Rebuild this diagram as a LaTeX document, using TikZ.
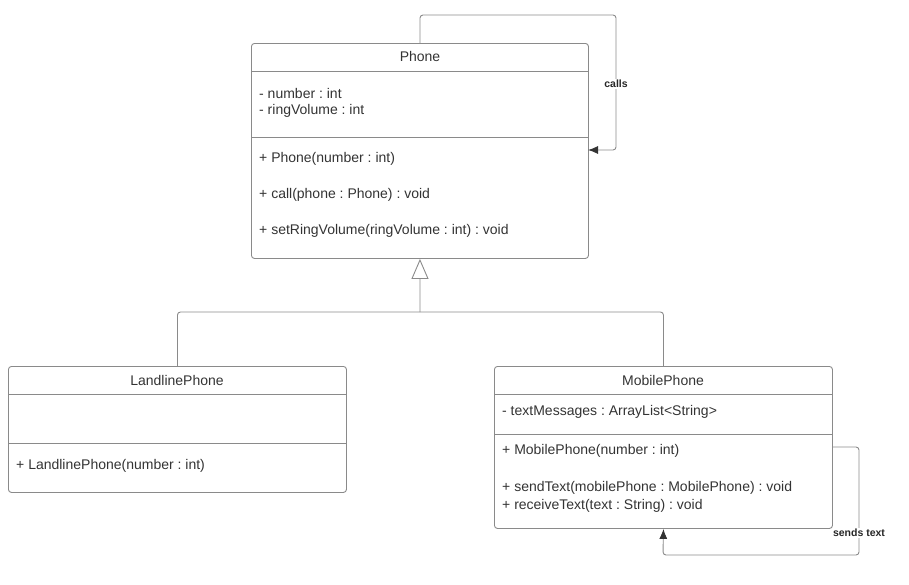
\documentclass[tikz,border=0pt]{standalone}
\usepackage{fontspec}
\setmainfont{Liberation Sans}
\frenchspacing
\usetikzlibrary{arrows.meta}
\definecolor{umlline}{HTML}{8A8A8A}
\definecolor{umltext}{HTML}{333333}
\tikzset{
  classbox/.style={draw=umlline, rounded corners=3pt, line width=0.9pt, inner sep=0pt, anchor=north west},
  member/.style={anchor=west, inner sep=0pt, text=umltext, font=\fontsize{14}{16}\selectfont},
  title/.style={inner sep=0pt, text=umltext, font=\fontsize{14}{16}\selectfont},
  rel/.style={draw=umlline, line width=0.9pt, rounded corners=3pt},
  tip/.style={-{Latex[length=10pt, width=8pt, fill=umltext, color=umltext]}},
  rellabel/.style={fill=white, inner sep=1pt, text=black!85, font=\bfseries\fontsize{10.5}{12}\selectfont}
}
\begin{document}
\begin{tikzpicture}[x=1pt, y=-1pt]
  \useasboundingbox (0,0) rectangle (909,584);
  % Phone
  \node (phone) [classbox, minimum width=337pt, minimum height=215pt] at (251,43) {};
  \draw [umlline, line width=0.9pt] (251,71) -- (588,71) (251,137) -- (588,137);
  \node (phonet) [title] at (420,56) {Phone};
  \node (pa1) [member] at (259,93) {- number : int};
  \node (pa2) [member] at (259,111) {- ringVolume : int};
  \node (pm1) [member] at (259,159) {+ Phone(number : int)};
  \node (pm2) [member] at (259,195) {+ call(phone : Phone) : void};
  \node (pm3) [member] at (259,231) {+ setRingVolume(ringVolume : int) : void};
  % LandlinePhone
  \node (land) [classbox, minimum width=338pt, minimum height=126pt] at (8,366) {};
  \draw [umlline, line width=0.9pt] (8,394) -- (346,394) (8,443) -- (346,443);
  \node (landt) [title] at (177,380) {LandlinePhone};
  \node (lm1) [member] at (16,466) {+ LandlinePhone(number : int)};
  % MobilePhone
  \node (mobile) [classbox, minimum width=338pt, minimum height=162pt] at (494,366) {};
  \draw [umlline, line width=0.9pt] (494,394) -- (832,394) (494,434) -- (832,434);
  \node (mobilet) [title] at (663,380) {MobilePhone};
  \node (ma1) [member] at (502,412) {- textMessages : ArrayList<String>};
  \node (mm1) [member] at (502,451) {+ MobilePhone(number : int)};
  \node (mm2) [member] at (502,488) {+ sendText(mobilePhone : MobilePhone) : void};
  \node (mm3) [member] at (502,506) {+ receiveText(text : String) : void};
  % inheritance
  \coordinate (join) at (420,312);
  \draw [rel, -{Triangle[open, width=17pt, length=20pt]}] (join) -- (phone.south);
  \draw [rel] (land.north) |- (join) -| (mobile.north);
  % self associations
  \draw [rel, tip] (phone.north) -- (420,15) -- (616,15) -- (616,150) -- (588,150);
  \node (calls) [rellabel] at (616,84) {calls};
  \draw [rel, tip] (832,447) -- (859,447) -- (859,555) -- (663,555) -- (mobile.south);
  \node (sends) [rellabel] at (859,533) {sends text};
\end{tikzpicture}
\end{document}
